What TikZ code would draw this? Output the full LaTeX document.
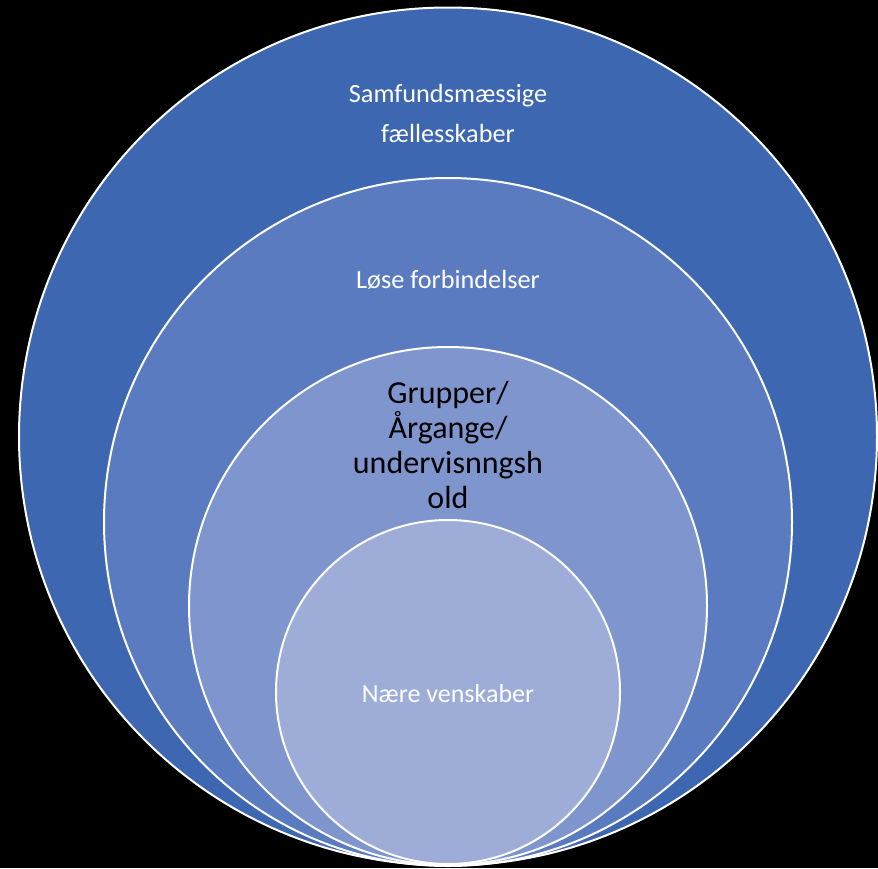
\documentclass[tikz,border=0pt]{standalone}
\usepackage{fontspec}
\setmainfont{Carlito}
\definecolor{ringouter}{RGB}{61,103,176}
\definecolor{ringloose}{RGB}{91,123,193}
\definecolor{ringgroup}{RGB}{126,149,205}
\definecolor{ringclose}{RGB}{157,173,216}
\tikzset{
  ring/.style={circle,draw=white,line width=1.5pt,inner sep=0pt},
  ringtxt/.style={anchor=base,align=center,inner sep=0pt,text=white,
                  font=\fontsize{19.7pt}{30pt}\selectfont},
  grouptxt/.style={ringtxt,text=black,font=\fontsize{24pt}{26.25pt}\selectfont},
}

\begin{document}
\begin{tikzpicture}[x=0.75pt,y=-0.75pt]
    \fill[black] (0,0) rectangle (878,868);
    \useasboundingbox (0,0) rectangle (878,868);
    % rings, outermost first
    \node[ring,fill=ringouter,minimum size=643.5pt] (society) at (448,436.5) {};
    \node[ring,fill=ringloose,minimum size=516pt] (loose) at (448,522) {};
    \node[ring,fill=ringgroup,minimum size=388.5pt] (groups) at (448,606) {};
    \node[ring,fill=ringclose,minimum size=258pt] (friends) at (448,692) {};
    % labels (base = last line)
    \node[ringtxt] (societytxt) at (448,142) {Samfundsmæssige\\fællesskaber};
    \node[ringtxt] (loosetxt) at (448,288) {Løse forbindelser};
    \node[grouptxt] (groupstxt) at (448,508) {Grupper/\\Årgange/\\undervisnngsh\\old};
    \node[ringtxt,font=\fontsize{19.5pt}{30pt}\selectfont] (friendstxt) at (448,702) {Nære venskaber};
\end{tikzpicture}
\end{document}
